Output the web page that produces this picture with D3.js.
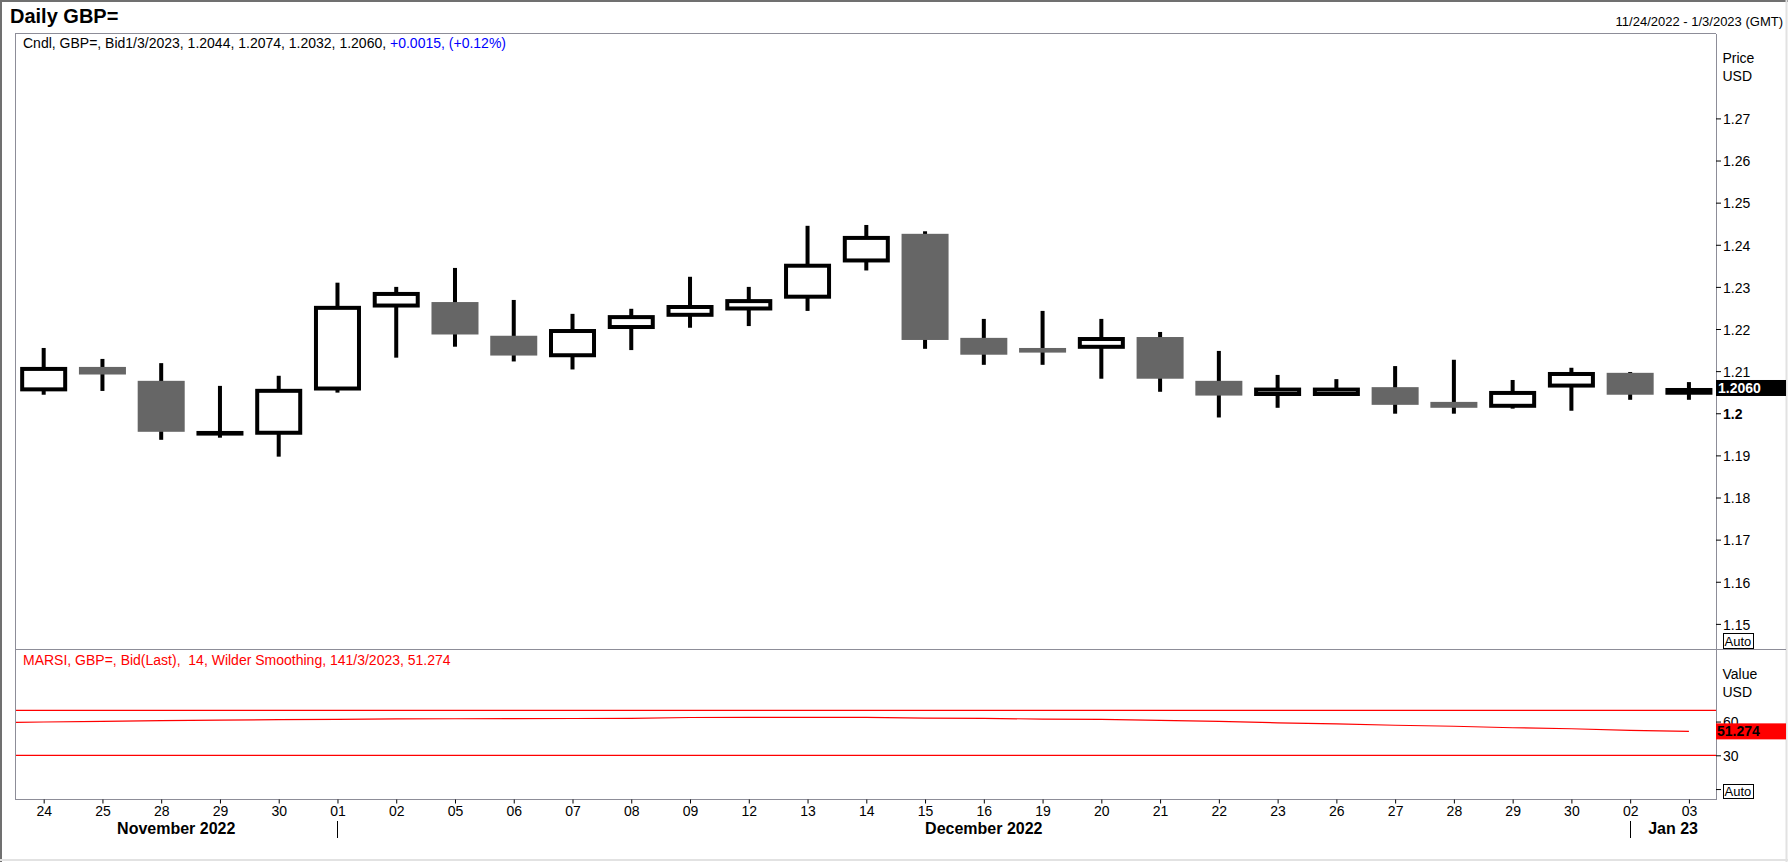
<!DOCTYPE html>
<html><head><meta charset="utf-8">
<script src="https://cdn.jsdelivr.net/npm/d3@7/dist/d3.min.js"></script>
<style>
body{margin:0;background:#fff}
svg{display:block}
text{font-family:"Liberation Sans",Arial,sans-serif}
</style>
</head><body>
<svg id="chart" width="1788" height="862"></svg>
<script>
// ---------- data ----------
const dates = ["2022-11-24","2022-11-25","2022-11-28","2022-11-29","2022-11-30",
  "2022-12-01","2022-12-02","2022-12-05","2022-12-06","2022-12-07","2022-12-08","2022-12-09",
  "2022-12-12","2022-12-13","2022-12-14","2022-12-15","2022-12-16","2022-12-19","2022-12-20",
  "2022-12-21","2022-12-22","2022-12-23","2022-12-26","2022-12-27","2022-12-28","2022-12-29",
  "2022-12-30","2023-01-02","2023-01-03"];
const dayLabels = ["24","25","28","29","30","01","02","05","06","07","08","09","12","13","14",
  "15","16","19","20","21","22","23","26","27","28","29","30","02","03"];
const opens  = [1.2052,1.2110,1.2077,1.1947,1.1949,1.2054,1.2251,1.2264,1.2184,1.2133,1.2200,1.2229,
  1.2244,1.2272,1.2358,1.2426,1.2179,1.2155,1.2153,1.2181,1.2077,1.2041,1.2041,1.2062,1.2027,1.2013,
  1.2061,1.2096,1.2044];
const highs  = [1.2155,1.2129,1.2119,1.2065,1.2089,1.2310,1.2300,1.2345,1.2269,1.2236,1.2248,1.2324,
  1.2300,1.2445,1.2447,1.2432,1.2224,1.2243,1.2224,1.2193,1.2148,1.2091,1.2081,1.2112,1.2127,1.2079,
  1.2108,1.2098,1.2074];
const lows   = [1.2044,1.2053,1.1937,1.1942,1.1897,1.2049,1.2132,1.2158,1.2123,1.2104,1.2150,1.2203,
  1.2207,1.2243,1.2339,1.2153,1.2115,1.2115,1.2082,1.2051,1.1990,1.2013,1.2041,1.1999,1.1999,1.2011,
  1.2006,1.2032,1.2032];
const closes = [1.2110,1.2092,1.1956,1.1958,1.2058,1.2255,1.2288,1.2187,1.2137,1.2200,1.2233,1.2257,
  1.2271,1.2355,1.2421,1.2174,1.2139,1.2144,1.2181,1.2082,1.2042,1.2061,1.2061,1.2020,1.2013,1.2053,
  1.2098,1.2044,1.2060];
const rsiPrior = 58.9;
const rsiValues = [59.6,60.2,60.9,61.2,61.7,61.9,62.4,62.5,62.6,62.7,62.8,63.6,63.8,63.8,63.8,63.0,
  62.8,62.2,62.0,61.1,60.2,58.9,58.0,56.7,55.8,54.5,53.6,52.2,51.274];
const priceTicks = [1.15,1.16,1.17,1.18,1.19,1.2,1.21,1.22,1.23,1.24,1.25,1.26,1.27];
const rsiTicks = [60,30,0];
const rsiBands = [70,30];
const monthLabels = ["November 2022","December 2022","Jan 23"];
const monthStarts = ["2022-12-01","2023-01-02"];

// ---------- layout ----------
const W = 1788, H = 862;
const L = 15, R = 1716, T = 33.5, D = 649.5, B = 799.5;
const svg = d3.select("#chart");
svg.append("rect").attr("width",W).attr("height",H).attr("fill","#fff");

const x = d3.scalePoint().domain(dates).range([14.3,1718.3]).padding(0.5);
const step = x.step();
const bw = step*0.8;
const y = d3.scaleLinear().domain([1.14392,1.2902]).range([D,33.3]);
const yr = d3.scaleLinear().domain([30,70]).range([755.3,710.3]);

// outer frame
svg.append("line").attr("x1",0).attr("x2",W).attr("y1",1).attr("y2",1).attr("stroke","#707070").attr("stroke-width",2);
svg.append("line").attr("x1",1).attr("x2",1).attr("y1",0).attr("y2",H).attr("stroke","#707070").attr("stroke-width",2);
svg.append("line").attr("x1",W-1.5).attr("x2",W-1.5).attr("y1",0).attr("y2",H).attr("stroke","#e2e2e2").attr("stroke-width",2);
svg.append("line").attr("x1",0).attr("x2",W).attr("y1",H-2).attr("y2",H-2).attr("stroke","#e2e2e2").attr("stroke-width",2);

// titles
svg.append("text").attr("x",10).attr("y",23).attr("font-size",20).attr("font-weight","bold").text("Daily GBP=");
svg.append("text").attr("x",1783).attr("y",26).attr("font-size",13).attr("text-anchor","end").text("11/24/2022 - 1/3/2023 (GMT)");

// panel borders
const bc = "#8d8d98";
const border = svg.append("g").attr("stroke",bc).attr("stroke-width",1).attr("shape-rendering","crispEdges");
border.append("line").attr("x1",L).attr("x2",R).attr("y1",T).attr("y2",T);
border.append("line").attr("x1",L).attr("x2",L).attr("y1",T).attr("y2",B);
border.append("line").attr("x1",R).attr("x2",R).attr("y1",T).attr("y2",B);
border.append("line").attr("x1",L).attr("x2",W-2).attr("y1",D).attr("y2",D);
border.append("line").attr("x1",L).attr("x2",R).attr("y1",B).attr("y2",B);

// clip for plots
const defs = svg.append("defs");
defs.append("clipPath").attr("id","clipP").append("rect").attr("x",L+1).attr("y",T+1).attr("width",R-L-1).attr("height",D-T-1);
defs.append("clipPath").attr("id","clipR").append("rect").attr("x",L+1).attr("y",D+1).attr("width",R-L-1).attr("height",B-D-1);

// candles
const data = dates.map((d,i)=>({d,o:opens[i],h:highs[i],l:lows[i],c:closes[i]}));
const cg = svg.append("g").attr("clip-path","url(#clipP)");
const candle = cg.selectAll("g.c").data(data).join("g").attr("class","c");
candle.append("rect")
  .attr("x",d=>x(d.d)-2).attr("width",4)
  .attr("y",d=>y(d.h)).attr("height",d=>Math.max(1,y(d.l)-y(d.h)))
  .attr("fill","#000");
candle.each(function(d){
  const g = d3.select(this);
  const cx = x(d.d);
  const top = y(Math.max(d.o,d.c)), bot = y(Math.min(d.o,d.c));
  const h = Math.max(1,bot-top);
  if(d.c >= d.o){
    g.append("rect").attr("x",cx-bw/2).attr("width",bw).attr("y",top).attr("height",Math.max(4,h)).attr("fill","#000");
    if(h > 8){
      g.append("rect").attr("x",cx-bw/2+4).attr("width",bw-8).attr("y",top+4).attr("height",h-8).attr("fill","#fff");
    }
  } else {
    g.append("rect").attr("x",cx-bw/2).attr("width",bw).attr("y",top).attr("height",Math.max(4,h)).attr("fill","#666666");
  }
});

// price axis
const pAxis = svg.append("g").attr("transform",`translate(${R},0)`)
  .call(d3.axisRight(y).tickValues(priceTicks).tickSize(5).tickPadding(2)
    .tickFormat(v=>v===1.2?"1.2":d3.format(".2f")(v)));
pAxis.select(".domain").remove();
pAxis.selectAll("line").attr("stroke","#000");
pAxis.selectAll("text").attr("font-size",14).attr("font-family","Liberation Sans, Arial, sans-serif")
  .attr("fill","#000").attr("dy","0.38em")
  .attr("font-weight",v=>v===1.2?"bold":"normal");
svg.append("text").attr("x",1722.5).attr("y",63).attr("font-size",14).text("Price");
svg.append("text").attr("x",1722.5).attr("y",81).attr("font-size",14).text("USD");

// last price label
const lastC = closes[closes.length-1];
svg.append("rect").attr("x",R).attr("width",W-2-R).attr("y",y(lastC)-8).attr("height",16).attr("fill","#000");
svg.append("text").attr("x",R+2).attr("y",y(lastC)+5).attr("font-size",14).attr("font-weight","bold")
  .attr("fill","#fff").text(d3.format(".4f")(lastC));

// auto box
function autoBox(yTop,h){
  svg.append("rect").attr("x",1723.5).attr("y",yTop).attr("width",30).attr("height",h)
    .attr("fill","#fff").attr("stroke","#000").attr("stroke-width",1);
  svg.append("text").attr("x",1724.5).attr("y",yTop+h-2.5).attr("font-size",13).text("Auto");
}
autoBox(633.5,15);

// header text
const hdr = svg.append("text").attr("x",23).attr("y",48).attr("font-size",14);
hdr.append("tspan").attr("fill","#000").text("Cndl, GBP=, Bid1/3/2023, 1.2044, 1.2074, 1.2032, 1.2060, ");
hdr.append("tspan").attr("fill","#0000ff").text("+0.0015, (+0.12%)");

// RSI panel
const rg = svg.append("g").attr("clip-path","url(#clipR)");
rg.selectAll("line.band").data(rsiBands).join("line").attr("class","band")
  .attr("x1",L).attr("x2",R).attr("y1",v=>yr(v)).attr("y2",v=>yr(v))
  .attr("stroke","#ff0000").attr("stroke-width",1.3);
const rsiPts = [[x(dates[0])-step, rsiPrior]].concat(dates.map((d,i)=>[x(d), rsiValues[i]]));
rg.append("path").datum(rsiPts)
  .attr("d",d3.line().x(p=>p[0]).y(p=>yr(p[1])))
  .attr("fill","none").attr("stroke","#ff0000").attr("stroke-width",1.2);

svg.append("text").attr("x",23).attr("y",665).attr("font-size",14).attr("fill","#ff0000")
  .style("white-space","pre").text("MARSI, GBP=, Bid(Last),  14, Wilder Smoothing, 141/3/2023, 51.274");

const rAxis = svg.append("g").attr("transform",`translate(${R},0)`)
  .call(d3.axisRight(yr).tickValues(rsiTicks).tickSize(5).tickPadding(2)
    .tickFormat(v=>v===0?"":String(v)));
rAxis.select(".domain").remove();
rAxis.selectAll("line").attr("stroke","#000");
rAxis.selectAll("text").attr("font-size",14).attr("font-family","Liberation Sans, Arial, sans-serif")
  .attr("fill","#000").attr("dy","0.38em");
svg.append("text").attr("x",1722.5).attr("y",679).attr("font-size",14).text("Value");
svg.append("text").attr("x",1722.5).attr("y",697).attr("font-size",14).text("USD");

const lastR = rsiValues[rsiValues.length-1];
svg.append("rect").attr("x",R).attr("width",W-2-R).attr("y",yr(lastR)-8).attr("height",16).attr("fill","#ff0000");
svg.append("text").attr("x",R+1).attr("y",yr(lastR)+5).attr("font-size",14).attr("font-weight","bold")
  .attr("fill","#000").text(d3.format(".3f")(lastR));
autoBox(784.5,14);

// x axis
const xAxis = svg.append("g").attr("transform",`translate(0,${B})`)
  .call(d3.axisBottom(x).tickSize(4).tickPadding(3).tickFormat((d,i)=>dayLabels[i]));
xAxis.select(".domain").remove();
xAxis.selectAll("line").attr("stroke","#000");
xAxis.selectAll("text").attr("font-size",14).attr("font-family","Liberation Sans, Arial, sans-serif").attr("fill","#000");

// month separators and labels
const bounds = [L].concat(monthStarts.map(d=>x(d))).concat([R]);
svg.selectAll("line.sep").data(monthStarts).join("line").attr("class","sep")
  .attr("x1",d=>Math.round(x(d))+0.5).attr("x2",d=>Math.round(x(d))+0.5)
  .attr("y1",821).attr("y2",838).attr("stroke","#000").attr("stroke-width",1);
svg.selectAll("text.month").data(monthLabels).join("text").attr("class","month")
  .attr("x",(d,i)=>(bounds[i]+bounds[i+1])/2).attr("y",834)
  .attr("text-anchor","middle").attr("font-size",16).attr("font-weight","bold").text(d=>d);
</script>
</body></html>
